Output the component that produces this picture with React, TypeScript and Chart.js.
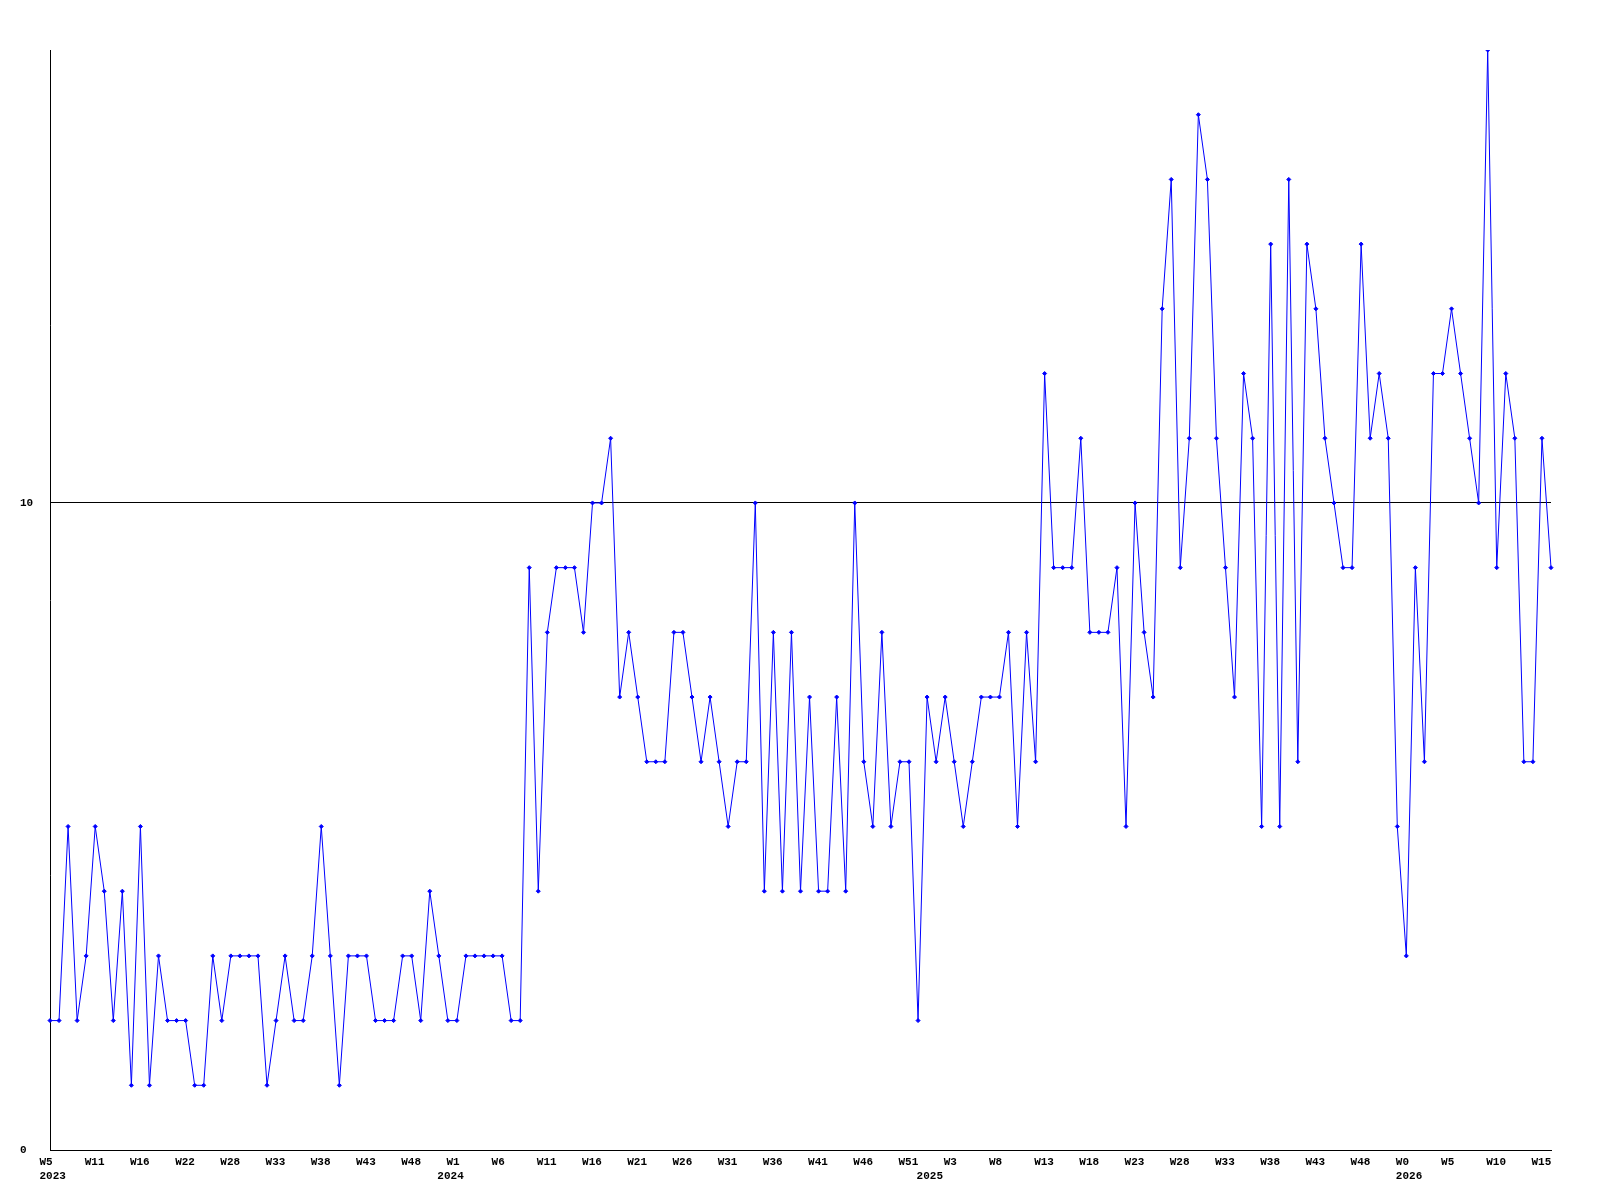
import React, { useEffect, useRef } from "react";
import { Chart, registerables } from "chart.js";

Chart.register(...registerables);

// Weekly values, one per point (167 points, W5 2023 .. W16 2026)
const VALUES: number[] = [
  2, 2, 5, 2, 3, 5, 4, 2, 4, 1, 5, 1, 3, 2, 2, 2, 1, 1, 3, 2,
  3, 3, 3, 3, 1, 2, 3, 2, 2, 3, 5, 3, 1, 3, 3, 3, 2, 2, 2, 3,
  3, 2, 4, 3, 2, 2, 3, 3, 3, 3, 3, 2, 2, 9, 4, 8, 9, 9, 9, 8,
  10, 10, 11, 7, 8, 7, 6, 6, 6, 8, 8, 7, 6, 7, 6, 5, 6, 6, 10, 4,
  8, 4, 8, 4, 7, 4, 4, 7, 4, 10, 6, 5, 8, 5, 6, 6, 2, 7, 6, 7,
  6, 5, 6, 7, 7, 7, 8, 5, 8, 6, 12, 9, 9, 9, 11, 8, 8, 8, 9, 5,
  10, 8, 7, 13, 15, 9, 11, 16, 15, 11, 9, 7, 12, 11, 5, 14, 5, 15, 6, 14,
  13, 11, 10, 9, 9, 14, 11, 12, 11, 5, 3, 9, 6, 12, 12, 13, 12, 11, 10, 17,
  9, 12, 11, 6, 6, 11, 9,
];

// Week labels shown every 5th point
const WEEK_TICKS: string[] = [
  "W5", "W11", "W16", "W22", "W28", "W33", "W38", "W43", "W48",
  "W1", "W6", "W11", "W16", "W21", "W26", "W31", "W36", "W41", "W46", "W51",
  "W3", "W8", "W13", "W18", "W23", "W28", "W33", "W38", "W43", "W48",
  "W0", "W5", "W10", "W15",
];
const TICK_EVERY = 5;

// Year labels: [year, point index where the year starts]
const YEAR_MARKS: [string, number][] = [
  ["2023", 0],
  ["2024", 44],
  ["2025", 97],
  ["2026", 150],
];

const Y_TICKS: number[] = [0, 10];
const Y_MAX = 17;

const FONT = { family: '"Liberation Mono", "DejaVu Sans Mono", monospace', size: 11, weight: "bold" as const, lineHeight: 14 / 11 };

export default function App() {
  const ref = useRef<HTMLCanvasElement | null>(null);

  useEffect(() => {
    const canvas = ref.current;
    if (!canvas) return;
    const categories = VALUES.map((_, i) => String(i));
    const chart = new Chart(canvas, {
      type: "line",
      data: {
        labels: categories,
        datasets: [
          {
            data: VALUES,
            xAxisID: "x",
            yAxisID: "y",
            borderColor: "#0000ff",
            backgroundColor: "#0000ff",
            borderWidth: 1,
            pointStyle: "rectRot",
            pointRadius: 2,
            pointBorderWidth: 1,
            pointBorderColor: "#0000ff",
            pointBackgroundColor: "#0000ff",
            tension: 0,
            fill: false,
          },
        ],
      },
      options: {
        responsive: false,
        animation: false,
        devicePixelRatio: 1,
        layout: { padding: { left: 20, top: 50, right: 49, bottom: 0 } },
        plugins: { legend: { display: false }, tooltip: { enabled: false } },
        scales: {
          x: {
            type: "category",
            position: "bottom",
            weight: 0,
            offset: false,
            grid: { display: false, drawTicks: false },
            border: { display: true, color: "#000000", width: 1 },
            ticks: {
              autoSkip: false,
              maxRotation: 0,
              minRotation: 0,
              align: "start",
              labelOffset: -10.5,
              padding: 5,
              color: "#000000",
              font: FONT,
              callback: (_v: any, idx: number) =>
                idx % TICK_EVERY === 0 ? WEEK_TICKS[idx / TICK_EVERY] ?? "" : "",
            },
            afterFit: (s: any) => {
              s.height = 18;
              s.paddingLeft = 0;
              s.paddingRight = 0;
            },
          },
          x2: {
            type: "category",
            position: "bottom",
            weight: 1,
            offset: false,
            grid: { display: false, drawTicks: false },
            border: { display: false },
            ticks: {
              autoSkip: false,
              maxRotation: 0,
              minRotation: 0,
              align: "start",
              labelOffset: -10.5,
              padding: 1,
              color: "#000000",
              font: FONT,
              callback: (_v: any, idx: number) => {
                const m = YEAR_MARKS.find((y) => y[1] === idx);
                return m ? m[0] : "";
              },
            },
            afterFit: (s: any) => {
              s.height = 32;
              s.paddingLeft = 0;
              s.paddingRight = 0;
            },
          },
          y: {
            min: 0,
            max: Y_MAX,
            z: 1,
            grid: { color: "#000000", lineWidth: 1, drawTicks: false },
            border: { display: true, color: "#000000", width: 1 },
            ticks: {
              crossAlign: "far",
              padding: 0,
              color: "#000000",
              font: FONT,
            },
            afterBuildTicks: (s: any) => {
              s.ticks = Y_TICKS.map((v) => ({ value: v }));
            },
            afterFit: (s: any) => {
              s.width = 30;
            },
          },
        },
      },
    } as any);
    return () => chart.destroy();
  }, []);

  return (
    <div style={{ position: "absolute", left: 0, top: 0, width: 1600, height: 1200, background: "#ffffff" }}>
      <canvas ref={ref} width={1600} height={1200} style={{ display: "block", width: 1600, height: 1200 }} />
    </div>
  );
}
